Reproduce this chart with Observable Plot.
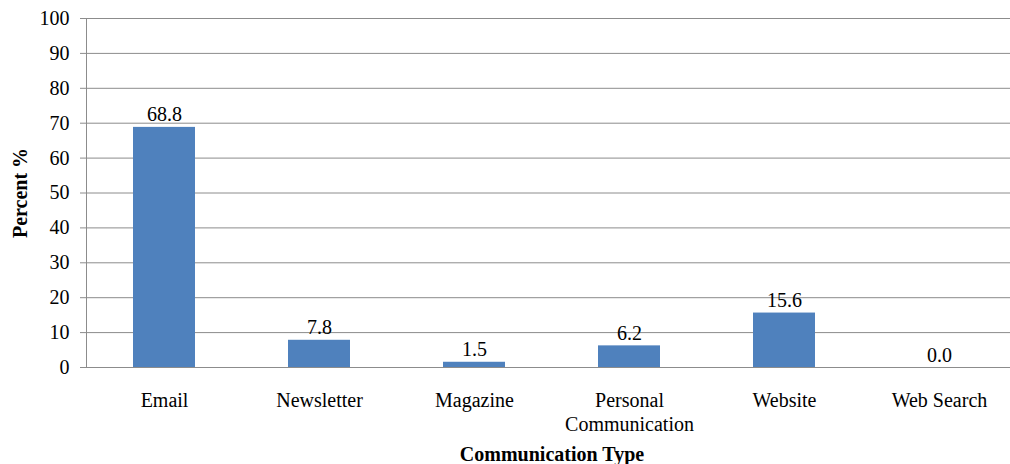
<!DOCTYPE html>
<html>
<head>
<meta charset="utf-8">
<script src="https://cdn.jsdelivr.net/npm/d3@7"></script>
<script src="https://cdn.jsdelivr.net/npm/@observablehq/plot@0.6"></script>
<style>
  html, body { margin: 0; padding: 0; background: #fff; overflow: hidden; }
  #chart svg { display: block; font-family: "Liberation Serif", "Times New Roman", serif !important; }
  #chart svg text { font-family: "Liberation Serif", "Times New Roman", serif !important; }
</style>
</head>
<body>
<div id="chart"></div>
<script>
const categories = ["Email", "Newsletter", "Magazine", "Personal Communication", "Website", "Web Search"];
const categoryLabels = ["Email", "Newsletter", "Magazine", "Personal\nCommunication", "Website", "Web Search"];
const values = [68.8, 7.8, 1.5, 6.2, 15.6, 0.0];
const yTicks = [0, 10, 20, 30, 40, 50, 60, 70, 80, 90, 100];
const yTitle = "Percent %";
const xTitle = "Communication Type";

const data = categories.map((c, i) => ({category: c, value: values[i]}));
const labelOf = new Map(categories.map((c, i) => [c, categoryLabels[i]]));

const font = "Liberation Serif";
const gridColor = "#8c8c8c";

const chart = Plot.plot({
  width: 1010,
  height: 464,
  marginLeft: 86,
  marginRight: -7,
  marginTop: 18,
  marginBottom: 97,
  style: {fontFamily: font, fontSize: "20px", color: "#000", background: "#fff"},
  x: {domain: categories, paddingInner: 0.6, paddingOuter: 0.3, align: 0.5},
  y: {domain: [0, 100]},
  marks: [
    Plot.ruleY(yTicks, {stroke: gridColor, strokeWidth: 1, strokeOpacity: 1}),
    Plot.frame({anchor: "left", stroke: gridColor, strokeWidth: 1}),
    Plot.axisY({ticks: yTicks, tickSize: 6, tickPadding: 11, stroke: gridColor, strokeOpacity: 1, fontSize: 20, fontFamily: font, label: null, fill: "#000"}),
    Plot.barY(data, {x: "category", y: "value", fill: "#4F81BD"}),
    Plot.text(data, {x: "category", y: "value", text: d => d.value.toFixed(1), lineAnchor: "bottom", dy: -6, fontSize: 20, fontFamily: font, fill: "#000"}),
    Plot.axisX({tickSize: 0, tickPadding: 22, tickFormat: d => labelOf.get(d), fontSize: 20, fontFamily: font, lineHeight: 1.2, label: null, fill: "#000"}),
    Plot.text([yTitle], {frameAnchor: "left", dx: -66, rotate: -90, textAnchor: "middle", text: d => d, fontWeight: "bold", fontSize: 20, fontFamily: font, fill: "#000"}),
    Plot.text([xTitle], {frameAnchor: "bottom", lineAnchor: "middle", dy: 87, text: d => d, fontWeight: "bold", fontSize: 20, fontFamily: font, fill: "#000"})
  ]
});
document.getElementById("chart").appendChild(chart);
</script>
</body>
</html>
